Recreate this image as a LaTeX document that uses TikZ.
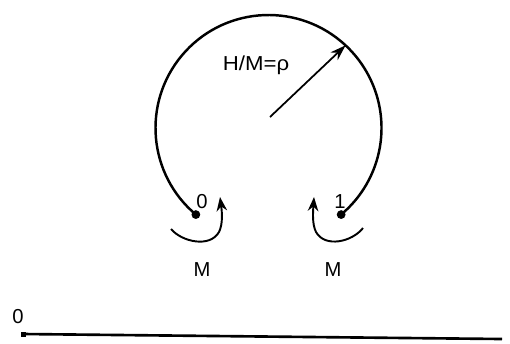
\documentclass[tikz,border=0pt]{standalone}
\usepackage{fontspec}
\setmainfont{Liberation Sans}
\usetikzlibrary{arrows.meta,calc}
\begin{document}
\begin{tikzpicture}[x=0.02cm,y=-0.02cm,
  thick line/.style={line width=1.4pt},
  thin arrow/.style={line width=1.1pt,-{Stealth[length=8pt,width=6pt]}},
  enddot/.style={circle,fill=black,inner sep=0pt,minimum size=5pt},
  lbl/.style={font=\fontsize{11.5}{13}\selectfont,inner sep=0pt}]
\useasboundingbox (0,0) rectangle (510,343);
% centre of the big arc
\coordinate (c) at (268.5,128);
\coordinate (l) at ($(c)+(130:113)$);
\coordinate (r) at ($(c)+(50:113)$);
\coordinate (tip) at ($(c)+(313:113)$);
\coordinate (o) at (270,117);
\draw[thick line] (l) arc[start angle=130,end angle=410,radius=113];
\node[enddot] (d0) at (l) {};
\node[enddot] (d1) at (r) {};
\draw[line width=1pt,-{Stealth[length=9pt,width=6pt]}] (o) -- (tip);
\node[lbl,xscale=1.1] (rho) at (256,65) {H/M=ρ};
\node[lbl] (n0) at (202,202) {0};
\node[lbl] (n1) at (340,202) {1};
% moment arrows
\coordinate (a0s) at (171,229);
\coordinate (a0t) at (220,197);
\coordinate (a1s) at (363,228);
\coordinate (a1t) at (314,197);
\draw[thin arrow] (a0s) .. controls (182,242) and (210,248) .. (219,232) .. controls (223,224) and (222,212) .. (a0t);
\draw[thin arrow] (a1s) .. controls (352,242) and (325,248) .. (316,232) .. controls (312,224) and (313,212) .. (a1t);
\node[lbl] (m0) at (202,270) {M};
\node[lbl] (m1) at (333,270) {M};
% bottom bar
\coordinate (b0) at (23,334);
\coordinate (b1) at (502,339);
\draw[line width=1.5pt] (b0) -- (b1);
\fill (21,331.5) rectangle (26,337);
\node[lbl] (z) at (18,317) {0};
\end{tikzpicture}
\end{document}
